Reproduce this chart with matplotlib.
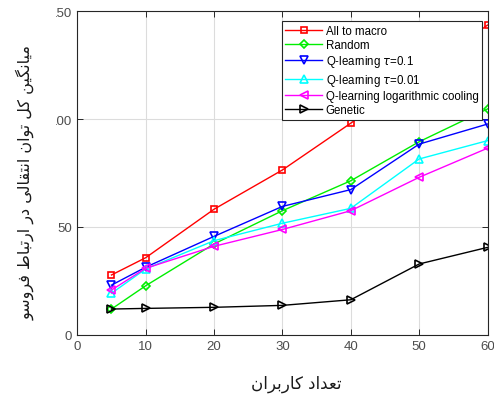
import matplotlib
matplotlib.use("Agg")
import matplotlib.pyplot as plt
from matplotlib.patches import Rectangle

# ---------------- data ----------------
users = [5, 10, 20, 30, 40, 50, 60]
all_to_macro = [27.7, 35.7, 58.2, 76.4, 98.1, 121.0, 143.6]
random_sel = [11.9, 22.7, 42.1, 57.5, 71.4, 89.5, 104.7]
q_tau01 = [23.0, 31.3, 45.6, 59.5, 67.3, 88.4, 97.7]
q_tau001 = [19.2, 30.5, 43.6, 51.7, 58.6, 81.5, 90.0]
q_log = [20.7, 30.8, 41.0, 48.8, 57.5, 73.0, 86.5]
genetic = [11.9, 12.2, 12.7, 13.6, 16.2, 32.8, 40.5]

labels = ["All to macro", "Random", r"Q-learning $\tau$=0.1",
          r"Q-learning $\tau$=0.01", "Q-learning logarithmic cooling", "Genetic"]
xticks = [0, 10, 20, 30, 40, 50, 60]
yticks = [0, 50, 100, 150]
xlabel_fa = "تعداد کاربران"
ylabel_fa = "میانگین کل توان انتقالی در ارتباط فروسو"

# ---------------- simple Arabic/Persian shaping ----------------
FORMS = {
    'ا': ('\uFE8D', '\uFE8E', None, None),
    'ب': ('\uFE8F', '\uFE90', '\uFE91', '\uFE92'),
    'ت': ('\uFE95', '\uFE96', '\uFE97', '\uFE98'),
    'د': ('\uFEA9', '\uFEAA', None, None),
    'ر': ('\uFEAD', '\uFEAE', None, None),
    'س': ('\uFEB1', '\uFEB2', '\uFEB3', '\uFEB4'),
    'ط': ('\uFEC1', '\uFEC2', '\uFEC3', '\uFEC4'),
    'ع': ('\uFEC9', '\uFECA', '\uFECB', '\uFECC'),
    'ف': ('\uFED1', '\uFED2', '\uFED3', '\uFED4'),
    'ق': ('\uFED5', '\uFED6', '\uFED7', '\uFED8'),
    'ل': ('\uFEDD', '\uFEDE', '\uFEDF', '\uFEE0'),
    'م': ('\uFEE1', '\uFEE2', '\uFEE3', '\uFEE4'),
    'ن': ('\uFEE5', '\uFEE6', '\uFEE7', '\uFEE8'),
    'و': ('\uFEED', '\uFEEE', None, None),
    'ک': ('\uFB8E', '\uFB8F', '\uFB90', '\uFB91'),
    'گ': ('\uFB92', '\uFB93', '\uFB94', '\uFB95'),
    'ی': ('\uFBFC', '\uFBFD', '\uFBFE', '\uFBFF'),
}


def shape(text):
    out = []
    n = len(text)
    for i, c in enumerate(text):
        if c not in FORMS:
            out.append(c)
            continue
        iso, fin, ini, med = FORMS[c]
        prev = text[i - 1] if i > 0 else None
        nxt = text[i + 1] if i < n - 1 else None
        jp = prev in FORMS and FORMS[prev][2] is not None
        jn = ini is not None and nxt in FORMS
        if jp and jn:
            out.append(med)
        elif jn:
            out.append(ini)
        elif jp:
            out.append(fin)
        else:
            out.append(iso)
    return ''.join(reversed(out))


# ---------------- figure ----------------
W, H = 494, 402
fig = plt.figure(figsize=(W / 100, H / 100), dpi=100)
ax = fig.add_axes([77.3 / W, 1 - 335.7 / H, (487.5 - 77.3) / W, (335.7 - 12.3) / H])

series = [all_to_macro, random_sel, q_tau01, q_tau001, q_log, genetic]
colors = ['#ff0000', '#00ee00', '#0000ff', '#00ffff', '#ff00ff', '#000000']
markers = ['s', 'D', 'v', '^', '<', '>']
msizes = [5, 4.5, 5.5, 5.5, 5.5, 5.5]
for y, c, m, ms, lab in zip(series, colors, markers, msizes, labels):
    ax.plot(users, y, color=c, marker=m, markersize=ms, markerfacecolor='none',
            markeredgecolor=c, markeredgewidth=1.2, linewidth=1.0, label=lab)

ax.set_xlim(0, 60)
ax.set_ylim(0, 150)
ax.set_xticks(xticks)
ax.set_yticks(yticks)
ax.grid(True, color='#dcdcdc', linewidth=0.8)
ax.set_axisbelow(True)
ax.tick_params(direction='in', top=True, right=True, length=4, width=0.7,
               colors='#262626', labelsize=9.5, labelcolor='#4d4d4d', pad=4)
for lbl in ax.get_xticklabels() + ax.get_yticklabels():
    lbl.set_family('Liberation Sans')
for s in ax.spines.values():
    s.set_color('#262626')
    s.set_linewidth(0.8)

leg = ax.legend(loc='upper right', bbox_to_anchor=(0.987, 0.969),
                prop={'family': 'Liberation Sans', 'size': 8.3},
                frameon=True, fancybox=False, framealpha=1, edgecolor='#262626',
                borderpad=0.3, labelspacing=0.2, handlelength=3.2,
                handletextpad=0.3, borderaxespad=0)
leg.get_frame().set_linewidth(0.8)

# white area on the left (covers the leading digits as in the reference)
fig.patches.append(Rectangle((0, 0), 56 / W, 1, transform=fig.transFigure,
                             facecolor='white', edgecolor='none', zorder=5))
fig.text(25 / W, 1 - 182 / H, shape(ylabel_fa), rotation=90, ha='center', va='center',
         fontsize=11.5, family='DejaVu Sans', color='#1a1a1a', zorder=6)
fig.text(296 / W, 1 - 384 / H, shape(xlabel_fa), ha='center', va='center',
         fontsize=12, family='DejaVu Sans', color='#1a1a1a')

fig.savefig('out.png', dpi=100)
